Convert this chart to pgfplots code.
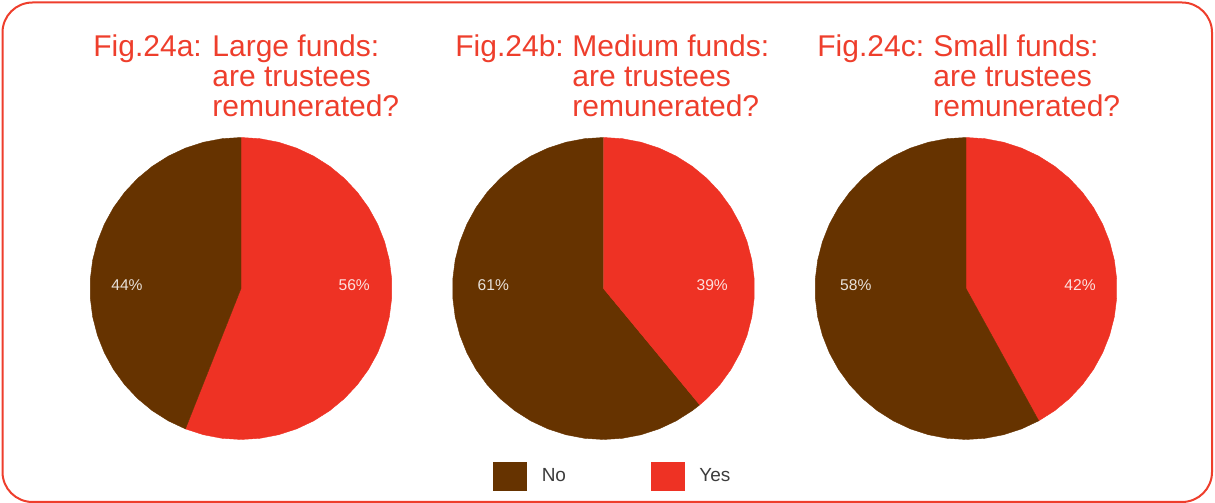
\documentclass[border=0pt]{standalone}
\usepackage{pgfplots}
\pgfplotsset{compat=1.18}
\usepackage{fontspec}
\setmainfont{Liberation Sans}
\definecolor{pbrown}{RGB}{102,51,0}
\definecolor{pred}{RGB}{238,50,36}
\definecolor{tred}{RGB}{238,62,44}
\definecolor{lgray}{RGB}{60,60,60}
\pgfplotsset{
  pie/.style={hide axis, x=75.5pt, y=75.5pt, xmin=-1, xmax=1, ymin=-1, ymax=1,
    anchor=origin, clip=false},
  slice/.style={data cs=polar, fill=#1, draw=#1, line width=0.2pt},
}
\newcommand{\tfont}{\fontsize{15}{18}\selectfont}
\newcommand{\pfont}{\fontsize{7.8}{9}\selectfont}
\begin{document}
\begin{tikzpicture}
\useasboundingbox (0,0) rectangle (607.5pt,251.5pt);
\draw[tred, line width=1pt, rounded corners=15pt] (1.25pt,0.5pt) rectangle (606pt,250.25pt);
% titles
\begin{scope}[every node/.style={anchor=base west, inner sep=0pt, text=tred, font=\tfont}]
\node at (46.5pt,223pt) {Fig.24a:};
\node at (106pt,223pt) {Large funds:};
\node at (106pt,208.2pt) {are trustees};
\node at (106pt,193.4pt) {remunerated?};
\node at (227.5pt,223pt) {Fig.24b:};
\node at (286pt,223pt) {Medium funds:};
\node at (286pt,208.2pt) {are trustees};
\node at (286pt,193.4pt) {remunerated?};
\node at (408.5pt,223pt) {Fig.24c:};
\node at (466.5pt,223pt) {Small funds:};
\node at (466.5pt,208.2pt) {are trustees};
\node at (466.5pt,193.4pt) {remunerated?};
\end{scope}
% Pie a: Yes 56%, No 44%
\begin{axis}[pie, at={(120.5pt,107.25pt)}]
\addplot[slice=pred] coordinates {(0,0) (90,1) (82.8,1) (75.6,1) (68.4,1) (61.2,1) (54,1) (46.8,1) (39.6,1) (32.4,1) (25.2,1) (18,1) (10.8,1) (3.6,1) (-3.6,1) (-10.8,1) (-18,1) (-25.2,1) (-32.4,1) (-39.6,1) (-46.8,1) (-54,1) (-61.2,1) (-68.4,1) (-75.6,1) (-82.8,1) (-90,1) (-97.2,1) (-104.4,1) (-111.6,1) (0,0)};
\addplot[slice=pbrown] coordinates {(0,0) (-111.6,1) (-118.8,1) (-126,1) (-133.2,1) (-140.4,1) (-147.6,1) (-154.8,1) (-162,1) (-169.2,1) (-176.4,1) (-183.6,1) (-190.8,1) (-198,1) (-205.2,1) (-212.4,1) (-219.6,1) (-226.8,1) (-234,1) (-241.2,1) (-248.4,1) (-255.6,1) (-262.8,1) (-270,1) (0,0)};
\node[font=\pfont, text=white, text opacity=0.85] at (axis cs:-0.755,0.02) {44\%};
\node[font=\pfont, text=white, text opacity=0.85] at (axis cs:0.75,0.02) {56\%};
\end{axis}
% Pie b: Yes 39%, No 61%
\begin{axis}[pie, at={(301.75pt,107.25pt)},
  legend columns=2,
  legend image code/.code={\fill[#1] (0pt,-7pt) rectangle (16.5pt,7pt);},
  legend style={draw=none, fill=none, inner sep=0pt, at={(axis cs:-0.732,-1.242)}, anchor=west,
    font=\fontsize{9.5}{11}\selectfont, text=lgray, column sep=5.5pt,
    /tikz/every even column/.append style={column sep=40.5pt}},
]
\addplot[slice=pbrown] coordinates {(0,0) (-50.4,1) (-54,1) (-61.2,1) (-68.4,1) (-75.6,1) (-82.8,1) (-90,1) (-97.2,1) (-104.4,1) (-111.6,1) (-118.8,1) (-126,1) (-133.2,1) (-140.4,1) (-147.6,1) (-154.8,1) (-162,1) (-169.2,1) (-176.4,1) (-183.6,1) (-190.8,1) (-198,1) (-205.2,1) (-212.4,1) (-219.6,1) (-226.8,1) (-234,1) (-241.2,1) (-248.4,1) (-255.6,1) (-262.8,1) (-270,1) (0,0)};
\addlegendentry{No}
\addplot[slice=pred] coordinates {(0,0) (90,1) (82.8,1) (75.6,1) (68.4,1) (61.2,1) (54,1) (46.8,1) (39.6,1) (32.4,1) (25.2,1) (18,1) (10.8,1) (3.6,1) (-3.6,1) (-10.8,1) (-18,1) (-25.2,1) (-32.4,1) (-39.6,1) (-46.8,1) (-50.4,1) (0,0)};
\addlegendentry{Yes}
\node[font=\pfont, text=white, text opacity=0.85] at (axis cs:-0.73,0.02) {61\%};
\node[font=\pfont, text=white, text opacity=0.85] at (axis cs:0.72,0.02) {39\%};
\end{axis}
% Pie c: Yes 42%, No 58%
\begin{axis}[pie, at={(483pt,107.25pt)}]
\addplot[slice=pred] coordinates {(0,0) (90,1) (82.8,1) (75.6,1) (68.4,1) (61.2,1) (54,1) (46.8,1) (39.6,1) (32.4,1) (25.2,1) (18,1) (10.8,1) (3.6,1) (-3.6,1) (-10.8,1) (-18,1) (-25.2,1) (-32.4,1) (-39.6,1) (-46.8,1) (-54,1) (-61.2,1) (0,0)};
\addplot[slice=pbrown] coordinates {(0,0) (-61.2,1) (-68.4,1) (-75.6,1) (-82.8,1) (-90,1) (-97.2,1) (-104.4,1) (-111.6,1) (-118.8,1) (-126,1) (-133.2,1) (-140.4,1) (-147.6,1) (-154.8,1) (-162,1) (-169.2,1) (-176.4,1) (-183.6,1) (-190.8,1) (-198,1) (-205.2,1) (-212.4,1) (-219.6,1) (-226.8,1) (-234,1) (-241.2,1) (-248.4,1) (-255.6,1) (-262.8,1) (-270,1) (0,0)};
\node[font=\pfont, text=white, text opacity=0.85] at (axis cs:-0.73,0.02) {58\%};
\node[font=\pfont, text=white, text opacity=0.85] at (axis cs:0.755,0.02) {42\%};
\end{axis}
\end{tikzpicture}
\end{document}
